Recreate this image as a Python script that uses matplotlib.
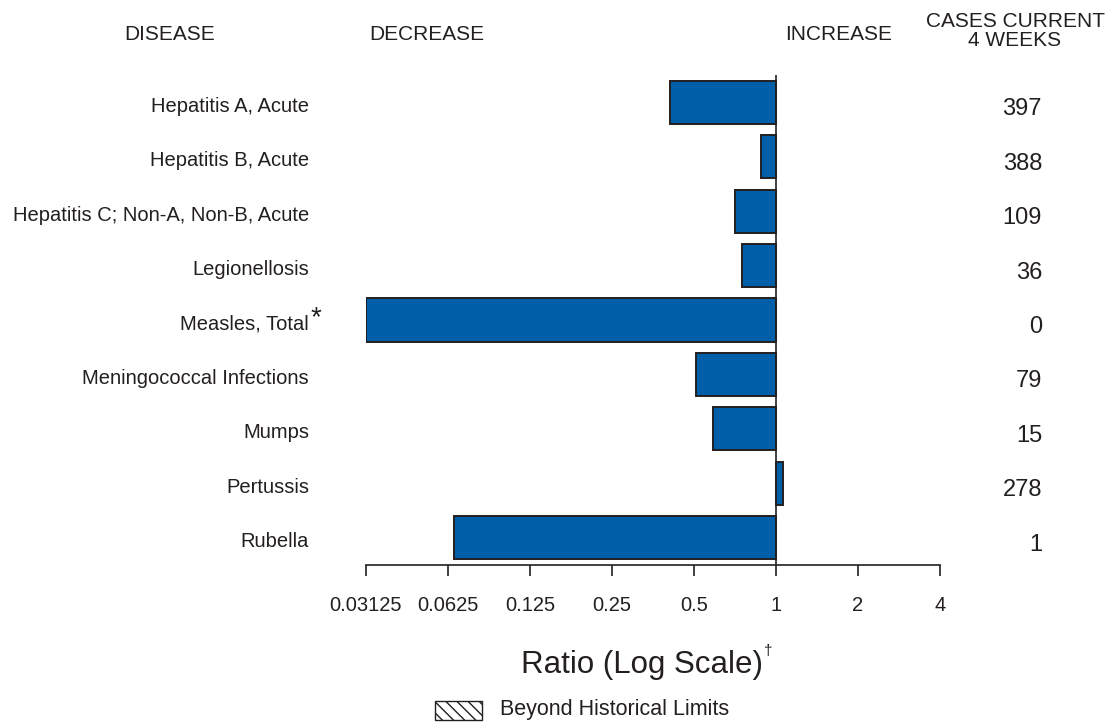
import numpy as np
import matplotlib.pyplot as plt
from matplotlib.patches import Rectangle
from matplotlib.transforms import blended_transform_factory, offset_copy

plt.rcParams['font.family'] = ['Liberation Sans', 'DejaVu Sans']

# Notifiable diseases: ratio of current 4-week total to historical baseline
diseases = ['Hepatitis A, Acute', 'Hepatitis B, Acute',
            'Hepatitis C; Non-A, Non-B, Acute', 'Legionellosis',
            'Measles, Total', 'Meningococcal Infections', 'Mumps',
            'Pertussis', 'Rubella']
ratios = [0.408, 0.88, 0.707, 0.75, 0.03125, 0.51, 0.587, 1.065, 0.066]
cases = [397, 388, 109, 36, 0, 79, 15, 278, 1]
ticks = [0.03125, 0.0625, 0.125, 0.25, 0.5, 1, 2, 4]
tick_labels = ['0.03125', '0.0625', '0.125', '0.25', '0.5', '1', '2', '4']

W, H = 1112, 723
fig = plt.figure(figsize=(W / 100, H / 100), dpi=100)
ax = fig.add_axes([366 / W, (H - 565) / H, 574 / W, 490 / H])

ink = '#231F20'
y = np.arange(len(diseases))
r = np.array(ratios)
ax.barh(y, np.abs(r - 1), left=np.minimum(r, 1), height=0.79,
        color='#005FA9', edgecolor=ink, linewidth=1.4, zorder=2)
ax.axvline(1, color=ink, linewidth=1.2, zorder=3)

ax.set_xscale('log', base=2)
ax.set_xlim(ticks[0], ticks[-1])
ax.set_ylim(len(diseases) - 0.5, -0.5)
ax.set_xticks(ticks)
ax.set_xticklabels(tick_labels)
ax.minorticks_off()
ax.set_yticks([])
for s in ['top', 'right', 'left']:
    ax.spines[s].set_visible(False)
ax.spines['bottom'].set_color(ink)
ax.spines['bottom'].set_linewidth(1.2)
ax.tick_params(axis='x', direction='out', length=8, width=1.2, color=ink,
               pad=14, labelsize=14.5, labelcolor=ink)

# row labels on the left, case counts on the right (nudged a few px down)
tr = blended_transform_factory(fig.transFigure, ax.transData)
tr_lab = offset_copy(tr, fig=fig, y=-4, units='dots')
tr_num = offset_copy(tr, fig=fig, y=-7, units='dots')
for i, (name, n) in enumerate(zip(diseases, cases)):
    fig.text(309 / W, i, name, transform=tr_lab, ha='right', va='center',
             fontsize=14.5, color=ink)
    fig.text(1042 / W, i, str(n), transform=tr_num, ha='right', va='center',
             fontsize=17, color=ink)
fig.text(311 / W, 4, '*', transform=offset_copy(tr, fig=fig, y=2, units='dots'),
         ha='left', va='center', fontsize=20, color=ink)

# column headers
hy = 1 - 35 / H
fig.text(170 / W, hy, 'DISEASE', ha='center', va='center', fontsize=15, color=ink)
fig.text(427 / W, hy, 'DECREASE', ha='center', va='center', fontsize=15, color=ink)
fig.text(839 / W, hy, 'INCREASE', ha='center', va='center', fontsize=15, color=ink)
fig.text(1015 / W, 1 - 31 / H, 'CASES CURRENT\n4 WEEKS', ha='center',
         va='center', fontsize=15, color=ink, linespacing=0.95)

# axis title with dagger
fig.text(642 / W, 1 - 665 / H, 'Ratio (Log Scale)', ha='center', va='center',
         fontsize=22.5, color=ink)
fig.text(764 / W, 1 - 651 / H, '\u2020', ha='left', va='center',
         fontsize=11, color=ink)

# legend swatch
fig.patches.append(Rectangle((435 / W, 1 - 720 / H), 47 / W, 19 / H,
                             transform=fig.transFigure, facecolor='white',
                             edgecolor=ink, hatch='\\\\\\', linewidth=1.0))
fig.text(500 / W, 1 - 709 / H, 'Beyond Historical Limits', ha='left',
         va='center', fontsize=15.5, color=ink)

fig.savefig('out.png', dpi=100)
